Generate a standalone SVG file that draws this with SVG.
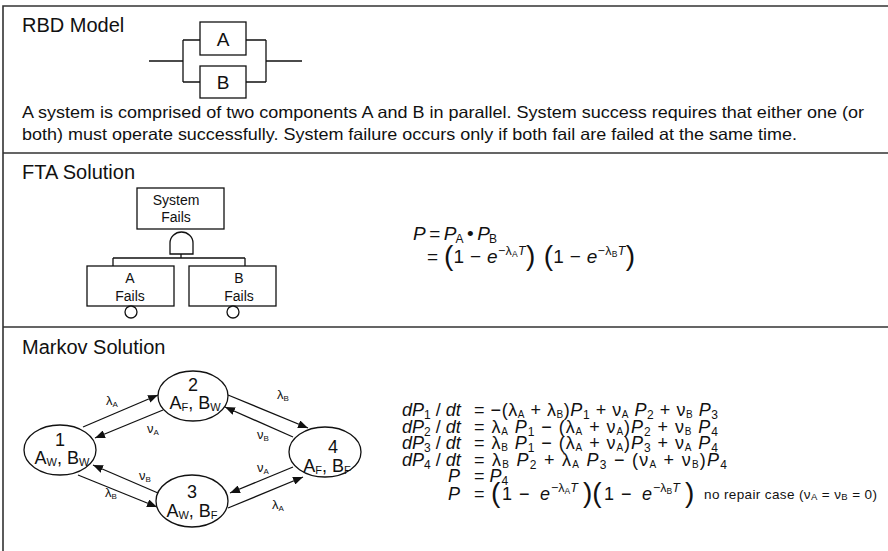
<svg xmlns="http://www.w3.org/2000/svg" width="888" height="551" viewBox="0 0 888 551">
<defs>
<style>
text{font-family:"Liberation Sans",Arial,sans-serif;fill:#111}
.frame{stroke:#333;stroke-width:1.6;fill:none}
.ln{stroke:#111;stroke-width:1.3;fill:none}
.box{stroke:#111;stroke-width:1.3;fill:#fff}
.title{font-size:20px}
.para{font-size:16.5px}
.ftxt{font-size:14px;text-anchor:middle}
.nd{font-size:18px;text-anchor:middle}
.eq{font-size:18px}
.fe{font-size:19px}
.i{font-style:italic}
.s{font-size:10px}
.d{font-size:12px}
.sup{font-size:12.5px}
.ss{font-size:8.5px}
.lbl{font-size:13px}
.sm{font-size:13.5px}
.big{font-size:28px}
</style>
<marker id="ah" viewBox="0 0 10 8" refX="10" refY="4" markerWidth="10" markerHeight="8" markerUnits="userSpaceOnUse" orient="auto">
<path d="M0,0 L10,4 L0,8 Z" fill="#111"/>
</marker>
</defs>
<rect width="888" height="551" fill="#fff"/>
<g id="frame">
<path class="frame" d="M3,551 V6 H888 M3,153 H888 M3,327 H888"/>
</g>

<!-- RBD -->
<g id="rbd">
<text class="title" x="22" y="32">RBD Model</text>
<path class="ln" d="M149,61 H183 M183,40 V82 M183,40 H200 M183,82 H200 M246,40 H266 M246,82 H266 M266,40 V82 M266,61 H302"/>
<g id="rbdA"><rect class="box" x="200" y="22" width="46" height="33"/><text x="223" y="46" font-size="19" text-anchor="middle">A</text></g>
<g id="rbdB"><rect class="box" x="200" y="66" width="46" height="32"/><text x="223" y="89" font-size="19" text-anchor="middle">B</text></g>
<text class="para" x="22" y="118" textLength="842" lengthAdjust="spacingAndGlyphs">A system is comprised of two components A and B in parallel. System success requires that either one (or</text>
<text class="para" x="22" y="140" textLength="775" lengthAdjust="spacingAndGlyphs">both) must operate successfully. System failure occurs only if both fail are failed at the same time.</text>
</g>

<!-- FTA -->
<g id="fta">
<text class="title" x="22" y="179">FTA Solution</text>
<g id="ftaTop"><rect class="box" x="137" y="188" width="87" height="41"/>
<text class="ftxt" x="176" y="205">System</text><text class="ftxt" x="176" y="222">Fails</text></g>
<g id="andGate"><path class="box" d="M170,254 V243 A11.5,11 0 0 1 193,243 V254 Z"/></g>
<g id="ftaConn"><path class="ln" d="M181,254 V258 M113,258 H245 M113,258 V266 M245,258 V266"/></g>
<g id="ftaA"><rect class="box" x="87" y="266" width="87" height="40"/>
<text class="ftxt" x="130" y="283">A</text><text class="ftxt" x="130" y="301">Fails</text>
<circle class="box" cx="131" cy="312" r="6"/></g>
<g id="ftaB"><rect class="box" x="189" y="266" width="87" height="40"/>
<text class="ftxt" x="239" y="283">B</text><text class="ftxt" x="239" y="301">Fails</text>
<circle class="box" cx="233" cy="312" r="6"/></g>
<text class="fe" x="413" y="240" textLength="84" lengthAdjust="spacing"><tspan class="i">P</tspan> = <tspan class="i">P</tspan><tspan class="d" dy="3">A</tspan><tspan dy="-3"> • </tspan><tspan class="i">P</tspan><tspan class="d" dy="3">B</tspan></text>
<text class="fe" x="427" y="263" textLength="208" lengthAdjust="spacing">= <tspan class="big" dy="2">(</tspan><tspan dy="-2">1 − </tspan><tspan class="i">e</tspan><tspan class="sup" dy="-8">−λ</tspan><tspan class="ss" dy="2">A</tspan><tspan class="sup i" dy="-2">T</tspan><tspan class="big" dy="10">)</tspan><tspan class="big"> (</tspan><tspan dy="-2">1 − </tspan><tspan class="i">e</tspan><tspan class="sup" dy="-8">−λ</tspan><tspan class="ss" dy="2">B</tspan><tspan class="sup i" dy="-2">T</tspan><tspan class="big" dy="10">)</tspan></text>
</g>

<!-- Markov -->
<g id="markov">
<text class="title" x="22" y="354">Markov Solution</text>
<g id="connectors">
<path class="ln" marker-end="url(#ah)" d="M83,427 L158,395"/>
<path class="ln" marker-end="url(#ah)" d="M163,410 L95,438"/>
<path class="ln" marker-end="url(#ah)" d="M228,395 L308,428"/>
<path class="ln" marker-end="url(#ah)" d="M293,437 L225,407"/>
<path class="ln" marker-end="url(#ah)" d="M78,475 L157,507"/>
<path class="ln" marker-end="url(#ah)" d="M158,493 L93,465"/>
<path class="ln" marker-end="url(#ah)" d="M228,508 L303,477"/>
<path class="ln" marker-end="url(#ah)" d="M293,467 L230,493"/>
<text class="lbl" x="106" y="405">λ<tspan font-size="8" dy="2">A</tspan></text>
<text class="lbl" x="147" y="433">ν<tspan font-size="8" dy="2">A</tspan></text>
<text class="lbl" x="277" y="399">λ<tspan font-size="8" dy="2">B</tspan></text>
<text class="lbl" x="257" y="439">ν<tspan font-size="8" dy="2">B</tspan></text>
<text class="lbl" x="105" y="497">λ<tspan font-size="8" dy="2">B</tspan></text>
<text class="lbl" x="139" y="480">ν<tspan font-size="8" dy="2">B</tspan></text>
<text class="lbl" x="272" y="509">λ<tspan font-size="8" dy="2">A</tspan></text>
<text class="lbl" x="257" y="472">ν<tspan font-size="8" dy="2">A</tspan></text>
</g>
<g id="n1"><ellipse class="box" cx="60" cy="450" rx="36" ry="25"/>
<text class="nd" x="60" y="446">1</text>
<text class="nd" x="62" y="464">A<tspan font-size="11" dy="2">W</tspan><tspan dy="-2">, B</tspan><tspan font-size="11" dy="2">W</tspan></text></g>
<g id="n2"><ellipse class="box" cx="193" cy="396" rx="35" ry="25"/>
<text class="nd" x="193" y="391">2</text>
<text class="nd" x="195" y="409">A<tspan font-size="11" dy="2">F</tspan><tspan dy="-2">, B</tspan><tspan font-size="11" dy="2">W</tspan></text></g>
<g id="n3"><ellipse class="box" cx="192" cy="501" rx="36" ry="26"/>
<text class="nd" x="192" y="498">3</text>
<text class="nd" x="192" y="517">A<tspan font-size="11" dy="2">W</tspan><tspan dy="-2">, B</tspan><tspan font-size="11" dy="2">F</tspan></text></g>
<g id="n4"><ellipse class="box" cx="325" cy="452" rx="36" ry="25"/>
<text class="nd" x="333" y="453">4</text>
<text class="nd" x="327" y="472">A<tspan font-size="11" dy="2">F</tspan><tspan dy="-2">, B</tspan><tspan font-size="11" dy="2">F</tspan></text></g>

<g id="equations">
<text class="eq" x="402" y="416"><tspan class="i">dP</tspan><tspan class="d" dy="3">1</tspan><tspan dy="-3"> / </tspan><tspan class="i">dt</tspan></text>
<text class="eq" x="402" y="433"><tspan class="i">dP</tspan><tspan class="d" dy="3">2</tspan><tspan dy="-3"> / </tspan><tspan class="i">dt</tspan></text>
<text class="eq" x="402" y="449"><tspan class="i">dP</tspan><tspan class="d" dy="3">3</tspan><tspan dy="-3"> / </tspan><tspan class="i">dt</tspan></text>
<text class="eq" x="402" y="466"><tspan class="i">dP</tspan><tspan class="d" dy="3">4</tspan><tspan dy="-3"> / </tspan><tspan class="i">dt</tspan></text>
<text class="eq" x="448" y="482"><tspan class="i">P</tspan></text>
<text class="eq" x="448" y="500"><tspan class="i">P</tspan></text>

<text class="eq" x="474" y="416" textLength="244" lengthAdjust="spacing">= −(λ<tspan class="s" dy="2">A</tspan><tspan dy="-2"> + λ</tspan><tspan class="s" dy="2">B</tspan><tspan dy="-2">)</tspan><tspan class="i">P</tspan><tspan class="d" dy="3">1</tspan><tspan dy="-3"> + ν</tspan><tspan class="s" dy="2">A</tspan><tspan dy="-2"> </tspan><tspan class="i">P</tspan><tspan class="d" dy="3">2</tspan><tspan dy="-3"> + ν</tspan><tspan class="s" dy="2">B</tspan><tspan dy="-2"> </tspan><tspan class="i">P</tspan><tspan class="d" dy="3">3</tspan></text>
<text class="eq" x="474" y="433" textLength="244" lengthAdjust="spacing">= λ<tspan class="s" dy="2">A</tspan><tspan dy="-2">  </tspan><tspan class="i">P</tspan><tspan class="d" dy="3">1</tspan><tspan dy="-3"> − (λ</tspan><tspan class="s" dy="2">A</tspan><tspan dy="-2"> + ν</tspan><tspan class="s" dy="2">A</tspan><tspan dy="-2">)</tspan><tspan class="i">P</tspan><tspan class="d" dy="3">2</tspan><tspan dy="-3"> + ν</tspan><tspan class="s" dy="2">B</tspan><tspan dy="-2"> </tspan><tspan class="i">P</tspan><tspan class="d" dy="3">4</tspan></text>
<text class="eq" x="474" y="449" textLength="244" lengthAdjust="spacing">= λ<tspan class="s" dy="2">B</tspan><tspan dy="-2">  </tspan><tspan class="i">P</tspan><tspan class="d" dy="3">1</tspan><tspan dy="-3"> − (λ</tspan><tspan class="s" dy="2">A</tspan><tspan dy="-2"> + ν</tspan><tspan class="s" dy="2">A</tspan><tspan dy="-2">)</tspan><tspan class="i">P</tspan><tspan class="d" dy="3">3</tspan><tspan dy="-3"> + ν</tspan><tspan class="s" dy="2">A</tspan><tspan dy="-2"> </tspan><tspan class="i">P</tspan><tspan class="d" dy="3">4</tspan></text>
<text class="eq" x="474" y="466" textLength="253" lengthAdjust="spacing">= λ<tspan class="s" dy="2">B</tspan><tspan dy="-2">  </tspan><tspan class="i">P</tspan><tspan class="d" dy="3">2</tspan><tspan dy="-3"> + λ</tspan><tspan class="s" dy="2">A</tspan><tspan dy="-2"> </tspan><tspan class="i">P</tspan><tspan class="d" dy="3">3</tspan><tspan dy="-3">  − (ν</tspan><tspan class="s" dy="2">A</tspan><tspan dy="-2">  + ν</tspan><tspan class="s" dy="2">B</tspan><tspan dy="-2">)</tspan><tspan class="i">P</tspan><tspan class="d" dy="3">4</tspan></text>
<text class="eq" x="474" y="482">= <tspan class="i">P</tspan><tspan class="d" dy="3">4</tspan></text>
<text class="eq" y="500"><tspan x="474">=</tspan><tspan x="491" class="big" dy="2">(</tspan><tspan x="502" dy="-2">1</tspan><tspan x="519">−</tspan><tspan x="540" class="i">e</tspan><tspan x="551" class="sup" dy="-8">−λ</tspan><tspan class="ss" dy="2">A</tspan><tspan class="sup i" dy="-2">T</tspan><tspan x="583" class="big" dy="10">)(</tspan><tspan x="604" dy="-2">1</tspan><tspan x="621">−</tspan><tspan x="642" class="i">e</tspan><tspan x="653" class="sup" dy="-8">−λ</tspan><tspan class="ss" dy="2">B</tspan><tspan class="sup i" dy="-2">T</tspan><tspan x="685" class="big" dy="10">)</tspan></text>
<text class="sm" x="704" y="499" textLength="173" lengthAdjust="spacing">no repair case (ν<tspan font-size="9.5" dy="1">A</tspan><tspan dy="-1"> = ν</tspan><tspan font-size="9.5" dy="1">B</tspan><tspan dy="-1"> = 0)</tspan></text>
</g>
</g>
</svg>
